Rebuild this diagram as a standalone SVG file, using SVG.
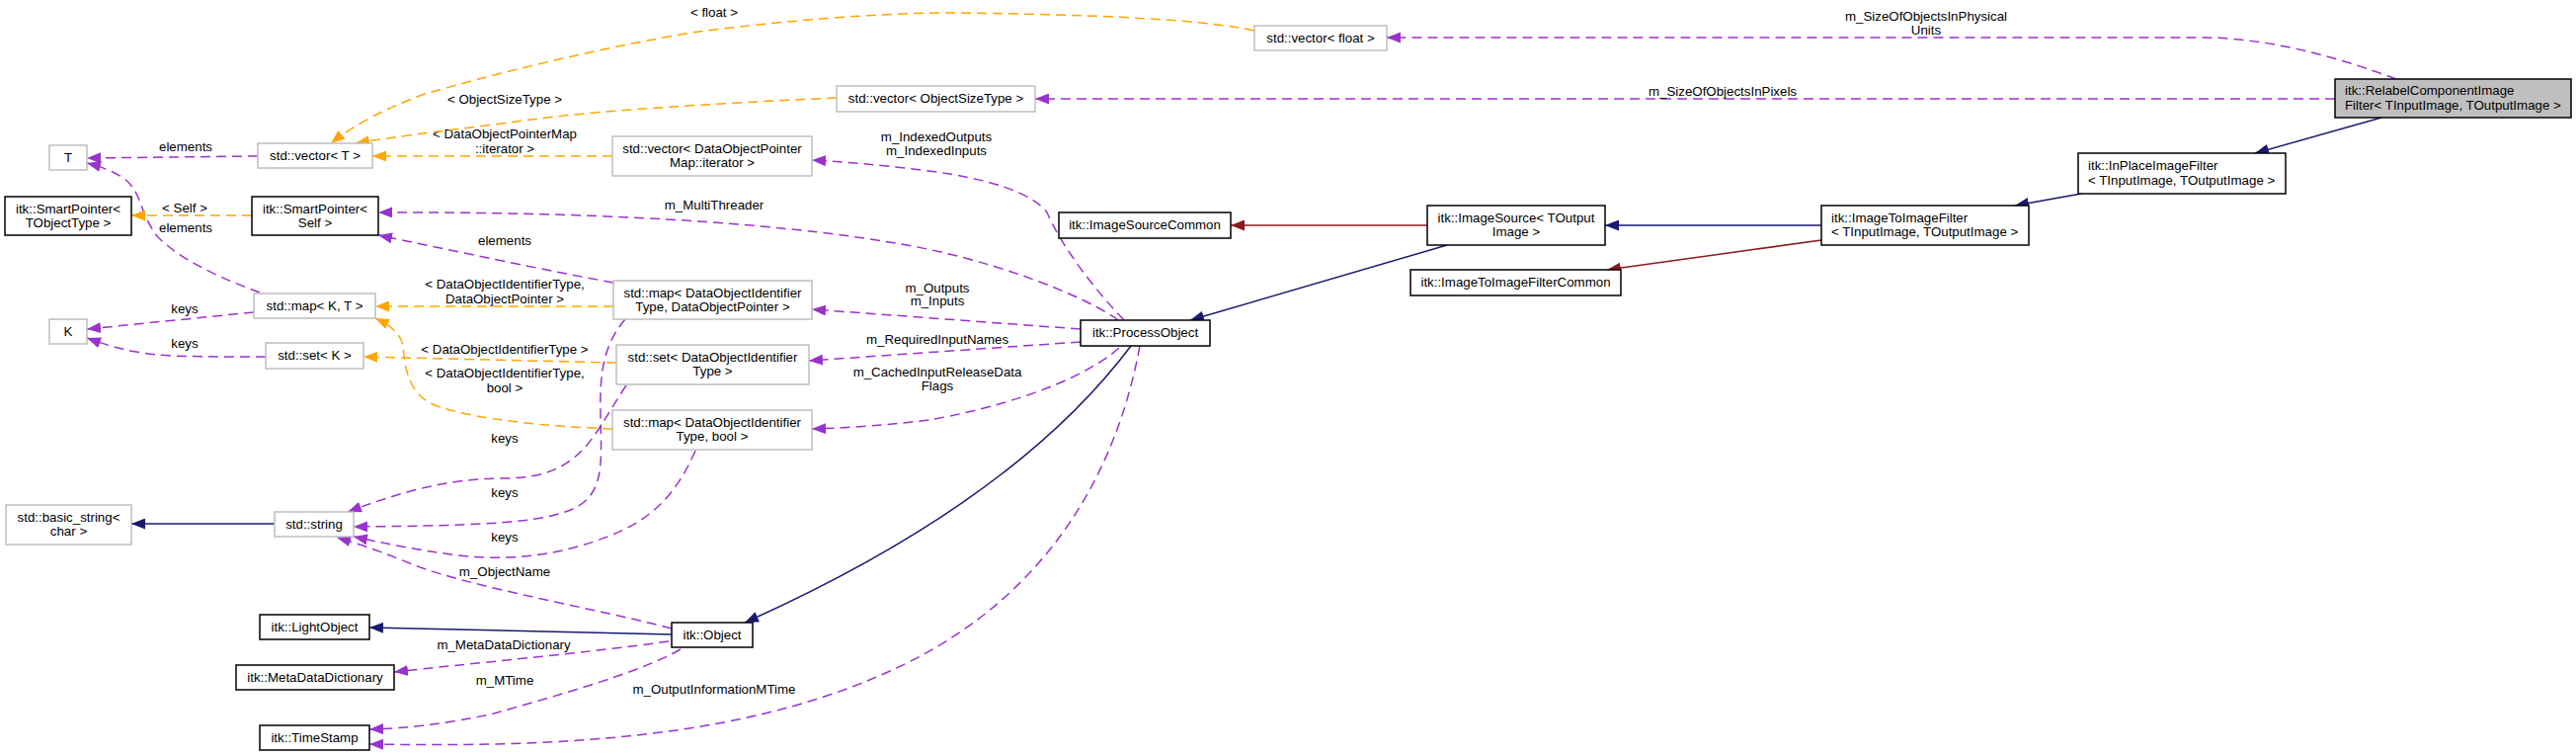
<svg xmlns="http://www.w3.org/2000/svg" width="2608" height="765" viewBox="0 0 2608 765">
<style>
text{font-family:"Liberation Sans",Arial,sans-serif;font-size:13.3px;fill:#000}
.c{text-anchor:middle}
.nb{fill:#fff;stroke:#000;stroke-width:1.5}
.ng{fill:#fff;stroke:#bfbfbf;stroke-width:1.5}
.nh{fill:#bfbfbf;stroke:#000;stroke-width:1.5}
.e{fill:none;stroke-width:1.5}
.p{stroke:#9a32cd;stroke-dasharray:10,6}
.o{stroke:#ffa500;stroke-dasharray:10,6}
.b{stroke:#191970}
.r{stroke:#8b1a1a}
</style>
<defs>
<marker id="ap" markerUnits="userSpaceOnUse" markerWidth="14" markerHeight="11" viewBox="0 0 14 11" refX="14" refY="5.5" orient="auto"><path d="M0,0L14,5.5L0,11z" fill="#9a32cd"/></marker>
<marker id="ao" markerUnits="userSpaceOnUse" markerWidth="14" markerHeight="11" viewBox="0 0 14 11" refX="14" refY="5.5" orient="auto"><path d="M0,0L14,5.5L0,11z" fill="#ffa500"/></marker>
<marker id="ab" markerUnits="userSpaceOnUse" markerWidth="14" markerHeight="11" viewBox="0 0 14 11" refX="14" refY="5.5" orient="auto"><path d="M0,0L14,5.5L0,11z" fill="#191970"/></marker>
<marker id="ar" markerUnits="userSpaceOnUse" markerWidth="14" markerHeight="11" viewBox="0 0 14 11" refX="14" refY="5.5" orient="auto"><path d="M0,0L14,5.5L0,11z" fill="#8b1a1a"/></marker>
</defs>
<rect width="2608" height="765" fill="#fff"/>
<g id="connectors">
<path class="e p" marker-end="url(#ap)" d="M2426,80C2360,55 2290,38 2230,38L1404,38"/>
<text class="c" x="1950" y="21">m_SizeOfObjectsInPhysical</text>
<text class="c" x="1950" y="35">Units</text>
<path class="e p" marker-end="url(#ap)" d="M2364,100L1048,100"/>
<text class="c" x="1744" y="97">m_SizeOfObjectsInPixels</text>
<path class="e b" marker-end="url(#ab)" d="M2411,119L2283,155"/>
<path class="e b" marker-end="url(#ab)" d="M2107,196L2040,208"/>
<path class="e b" marker-end="url(#ab)" d="M1844,228L1625,228"/>
<path class="e r" marker-end="url(#ar)" d="M1844,243L1627,273"/>
<path class="e r" marker-end="url(#ar)" d="M1445,228L1246,228"/>
<path class="e b" marker-end="url(#ab)" d="M1465,248L1205,324"/>
<path class="e b" marker-end="url(#ab)" d="M1145,350C1100,410 1000,520 754,630"/>
<path class="e b" marker-end="url(#ab)" d="M680,642L374,635"/>
<path class="e p" marker-end="url(#ap)" d="M680,636C600,615 480,595 420,572C395,562 370,552 341,544"/>
<text class="c" x="511" y="583">m_ObjectName</text>
<path class="e p" marker-end="url(#ap)" d="M677,649C600,660 470,672 399,680"/>
<text class="c" x="510" y="657">m_MetaDataDictionary</text>
<path class="e p" marker-end="url(#ap)" d="M689,657C650,680 560,705 500,722C450,733 410,737 374,738"/>
<text class="c" x="511" y="693">m_MTime</text>
<path class="e p" marker-end="url(#ap)" d="M1154,350C1130,480 1060,600 920,670C760,750 560,756 374,753"/>
<text class="c" x="723" y="702">m_OutputInformationMTime</text>
<path class="e p" marker-end="url(#ap)" d="M1133,352C1090,390 1000,415 940,425C900,430 860,433 822,434"/>
<text class="c" x="949" y="381">m_CachedInputReleaseData</text>
<text class="c" x="949" y="395">Flags</text>
<path class="e p" marker-end="url(#ap)" d="M1094,346L819,365"/>
<text class="c" x="949" y="348">m_RequiredInputNames</text>
<path class="e p" marker-end="url(#ap)" d="M1094,333L822,313"/>
<text class="c" x="949" y="296">m_Outputs</text>
<text class="c" x="949" y="309">m_Inputs</text>
<path class="e p" marker-end="url(#ap)" d="M1138,324C1110,295 1075,250 1060,215C1045,195 1000,180 933,172C890,167 860,164 822,162"/>
<text class="c" x="948" y="143">m_IndexedOutputs</text>
<text class="c" x="948" y="157">m_IndexedInputs</text>
<path class="e p" marker-end="url(#ap)" d="M1132,324C1100,300 1000,260 900,245C780,225 600,214 383,215"/>
<text class="c" x="723" y="212">m_MultiThreader</text>
<path class="e p" marker-end="url(#ap)" d="M621,286C560,275 450,252 383,238"/>
<text class="c" x="511" y="248">elements</text>
<path class="e o" marker-end="url(#ao)" d="M621,310L380,310"/>
<text class="c" x="511" y="292">&lt; DataObjectIdentifierType,</text>
<text class="c" x="511" y="307">DataObjectPointer &gt;</text>
<path class="e p" marker-end="url(#ap)" d="M634,390C600,440 590,484 510,484C450,484 400,500 352,518"/>
<text class="c" x="511" y="448">keys</text>
<path class="e p" marker-end="url(#ap)" d="M633,323C610,350 607,380 608,420C609,470 612,500 580,515C550,528 500,532 358,533"/>
<text class="c" x="511" y="503">keys</text>
<path class="e p" marker-end="url(#ap)" d="M704,456C685,500 660,525 620,541C570,562 510,570 450,560C420,556 390,550 358,543"/>
<text class="c" x="511" y="548">keys</text>
<path class="e o" marker-end="url(#ao)" d="M624,367L368,361"/>
<text class="c" x="511" y="358">&lt; DataObjectIdentifierType &gt;</text>
<path class="e o" marker-end="url(#ao)" d="M620,434C560,432 480,425 440,410C412,398 410,370 408,350C406,338 395,329 380,322"/>
<text class="c" x="511" y="382">&lt; DataObjectIdentifierType,</text>
<text class="c" x="511" y="397">bool &gt;</text>
<path class="e o" marker-end="url(#ao)" d="M620,158L377,158"/>
<text class="c" x="511" y="140">&lt; DataObjectPointerMap</text>
<text class="c" x="511" y="155">::iterator &gt;</text>
<path class="e o" marker-end="url(#ao)" d="M847,99C780,102 620,110 546,120C470,130 400,138 360,145"/>
<text class="c" x="511" y="105">&lt; ObjectSizeType &gt;</text>
<path class="e o" marker-end="url(#ao)" d="M1270,31C1220,20 1120,15 973,13C880,12 760,25 700,33C600,50 500,75 430,95C390,110 360,125 335,145"/>
<text class="c" x="723" y="17">&lt; float &gt;</text>
<path class="e p" marker-end="url(#ap)" d="M261,158L88,160"/>
<text class="c" x="188" y="153">elements</text>
<path class="e p" marker-end="url(#ap)" d="M263,296C230,284 185,265 160,240C140,215 145,195 125,180C112,172 100,168 88,165"/>
<text class="c" x="188" y="235">elements</text>
<path class="e o" marker-end="url(#ao)" d="M255,218L133,218"/>
<text class="c" x="187" y="215">&lt; Self &gt;</text>
<path class="e p" marker-end="url(#ap)" d="M257,316L88,333"/>
<text class="c" x="187" y="317">keys</text>
<path class="e p" marker-end="url(#ap)" d="M269,361C220,361 180,361 160,359C130,356 110,350 88,342"/>
<text class="c" x="187" y="352">keys</text>
<path class="e b" marker-end="url(#ab)" d="M278,530L133,530"/>
</g>
<g id="n-relabel"><rect class="nh" x="2364" y="80" width="239" height="39"/><text x="2374" y="96">itk::RelabelComponentImage</text><text x="2374" y="111">Filter&lt; TInputImage, TOutputImage &gt;</text></g>
<g id="n-inplace"><rect class="nb" x="2104" y="155" width="210" height="41"/><text x="2114" y="172">itk::InPlaceImageFilter</text><text x="2114" y="187">&lt; TInputImage, TOutputImage &gt;</text></g>
<g id="n-itif"><rect class="nb" x="1844" y="208" width="210" height="40"/><text x="1854" y="225">itk::ImageToImageFilter</text><text x="1854" y="239">&lt; TInputImage, TOutputImage &gt;</text></g>
<g id="n-imagesource"><rect class="nb" x="1445" y="208" width="180" height="40"/><text class="c" x="1535" y="225">itk::ImageSource&lt; TOutput</text><text class="c" x="1535" y="239">Image &gt;</text></g>
<g id="n-isc"><rect class="nb" x="1072" y="215" width="174" height="26"/><text class="c" x="1159" y="232">itk::ImageSourceCommon</text></g>
<g id="n-itifc"><rect class="nb" x="1428" y="273" width="213" height="26"/><text class="c" x="1534.5" y="290">itk::ImageToImageFilterCommon</text></g>
<g id="n-processobject"><rect class="nb" x="1094" y="324" width="131" height="26"/><text class="c" x="1159.5" y="341">itk::ProcessObject</text></g>
<g id="n-object"><rect class="nb" x="680" y="630" width="82" height="25"/><text class="c" x="721" y="647">itk::Object</text></g>
<g id="n-lightobject"><rect class="nb" x="263" y="622" width="111" height="25"/><text class="c" x="318.5" y="639">itk::LightObject</text></g>
<g id="n-mdd"><rect class="nb" x="239" y="673" width="160" height="25"/><text class="c" x="319" y="690">itk::MetaDataDictionary</text></g>
<g id="n-timestamp"><rect class="nb" x="263" y="734" width="111" height="25"/><text class="c" x="318.5" y="751">itk::TimeStamp</text></g>
<g id="n-vfloat"><rect class="ng" x="1270" y="26" width="134" height="25"/><text class="c" x="1337" y="43">std::vector&lt; float &gt;</text></g>
<g id="n-vost"><rect class="ng" x="847" y="87" width="201" height="26"/><text class="c" x="947.5" y="104">std::vector&lt; ObjectSizeType &gt;</text></g>
<g id="n-viter"><rect class="ng" x="620" y="138" width="202" height="40"/><text class="c" x="721" y="155">std::vector&lt; DataObjectPointer</text><text class="c" x="721" y="169">Map::iterator &gt;</text></g>
<g id="n-mdp"><rect class="ng" x="621" y="284" width="201" height="39"/><text class="c" x="721.5" y="301">std::map&lt; DataObjectIdentifier</text><text class="c" x="721.5" y="315">Type, DataObjectPointer &gt;</text></g>
<g id="n-sdoit"><rect class="ng" x="624" y="349" width="195" height="40"/><text class="c" x="721.5" y="366">std::set&lt; DataObjectIdentifier</text><text class="c" x="721.5" y="380">Type &gt;</text></g>
<g id="n-mbool"><rect class="ng" x="620" y="415" width="202" height="40"/><text class="c" x="721" y="432">std::map&lt; DataObjectIdentifier</text><text class="c" x="721" y="446">Type, bool &gt;</text></g>
<g id="n-vt"><rect class="ng" x="261" y="145" width="116" height="25"/><text class="c" x="319" y="162">std::vector&lt; T &gt;</text></g>
<g id="n-spself"><rect class="nb" x="255" y="199" width="128" height="39"/><text class="c" x="319" y="216">itk::SmartPointer&lt;</text><text class="c" x="319" y="230">Self &gt;</text></g>
<g id="n-spt"><rect class="nb" x="5" y="199" width="128" height="39"/><text class="c" x="69" y="216">itk::SmartPointer&lt;</text><text class="c" x="69" y="230">TObjectType &gt;</text></g>
<g id="n-mkt"><rect class="ng" x="257" y="297" width="123" height="25"/><text class="c" x="318.5" y="314">std::map&lt; K, T &gt;</text></g>
<g id="n-sk"><rect class="ng" x="269" y="347" width="99" height="26"/><text class="c" x="318.5" y="364">std::set&lt; K &gt;</text></g>
<g id="n-t"><rect class="ng" x="50" y="147" width="38" height="25"/><text class="c" x="69" y="164">T</text></g>
<g id="n-k"><rect class="ng" x="50" y="323" width="38" height="25"/><text class="c" x="69" y="340">K</text></g>
<g id="n-basicstring"><rect class="ng" x="6" y="511" width="127" height="40"/><text class="c" x="69.5" y="528">std::basic_string&lt;</text><text class="c" x="69.5" y="542">char &gt;</text></g>
<g id="n-string"><rect class="ng" x="278" y="518" width="80" height="25"/><text class="c" x="318" y="535">std::string</text></g>
</svg>
